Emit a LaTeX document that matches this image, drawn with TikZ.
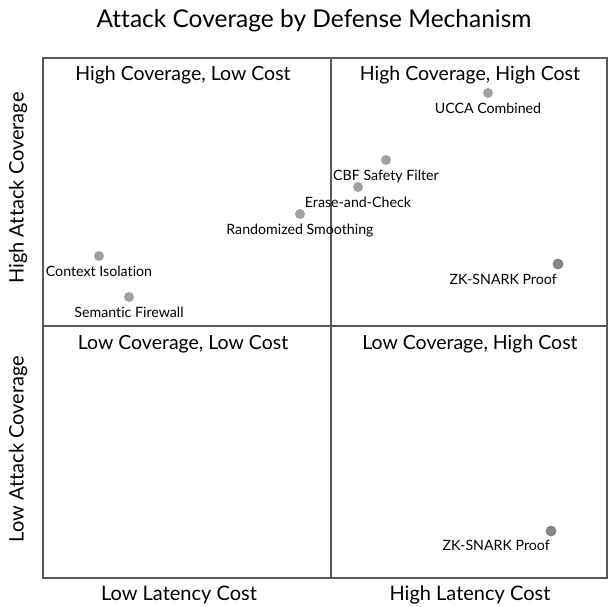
\documentclass[tikz,border=0pt]{standalone}
\usepackage{fontspec}
\setmainfont{Lato}[Ligatures=NoCommon]
\begin{document}
\begin{tikzpicture}[x = 1pt, y = -1pt,
        every node/.style={inner sep=0pt, font=\fontsize{14.2}{17}\selectfont},
        every path/.style={thick}
]
\tikzstyle{dot}= [fill=black!37, circle, minimum size = 10pt]
\tikzstyle{dotdark}= [fill=black!47, draw=black!55, line width=0.6pt, circle, minimum size = 10pt]
\tikzstyle{quad}= [font=\fontsize{19.5}{23}\selectfont]
\tikzstyle{axis}= [font=\fontsize{20}{23}\selectfont]
\useasboundingbox (0,0) rectangle (608,606);
    \node[font=\fontsize{24.5}{28}\selectfont] (title) at (314,21) {Attack Coverage by Defense Mechanism};
    % frame
    \coordinate (nw) at (43,58);
    \coordinate (se) at (607,578);
    \coordinate (top) at (331,58);
    \coordinate (bot) at (331,578);
    \coordinate (lft) at (43,326);
    \coordinate (rgt) at (607,326);
    \draw[black!65, line width=1.3pt] (nw) rectangle (se);
    \draw[black!65, line width=1.3pt] (top) -- (bot);
    \draw[black!65, line width=1.3pt] (lft) -- (rgt);
    % quadrants
    \node[quad] (hl) at (183,75) {High Coverage, Low Cost};
    \node[quad] (hh) at (470,75) {High Coverage, High Cost};
    \node[quad] (ll) at (183,344) {Low Coverage, Low Cost};
    \node[quad] (lh) at (470,344) {Low Coverage, High Cost};
    % axes
    \node[axis] (lowcost) at (179,595) {Low Latency Cost};
    \node[axis] (highcost) at (470,595) {High Latency Cost};
    \node[axis, rotate=90] (highcov) at (18,188) {High Attack Coverage};
    \node[axis, rotate=90] (lowcov) at (18,449) {Low Attack Coverage};
    % mechanisms
    \node[dot, label={[label distance=4pt]-90:UCCA Combined}] (ucca) at (488,93) {};
    \node[dot, label={[label distance=4pt]-90:CBF Safety Filter}] (cbf) at (386,160) {};
    \node[dot, label={[label distance=4pt]-90:Erase-and-Check}] (erase) at (358,187) {};
    \node[dot, label={[label distance=4pt]-90:Randomized Smoothing}] (rs) at (300,214) {};
    \node[dot, label={[label distance=4pt]-90:Context Isolation}] (ctx) at (99,256) {};
    \node[dot, label={[label distance=4pt]-90:Semantic Firewall}] (sem) at (129,297) {};
    \node[dotdark, label={[label distance=5pt]-95:ZK-SNARK Proof}] (zkhi) at (558,264) {};
    \node[dotdark, label={[label distance=4pt]-95:ZK-SNARK Proof}] (zklo) at (551,531) {};
\end{tikzpicture}
\end{document}
